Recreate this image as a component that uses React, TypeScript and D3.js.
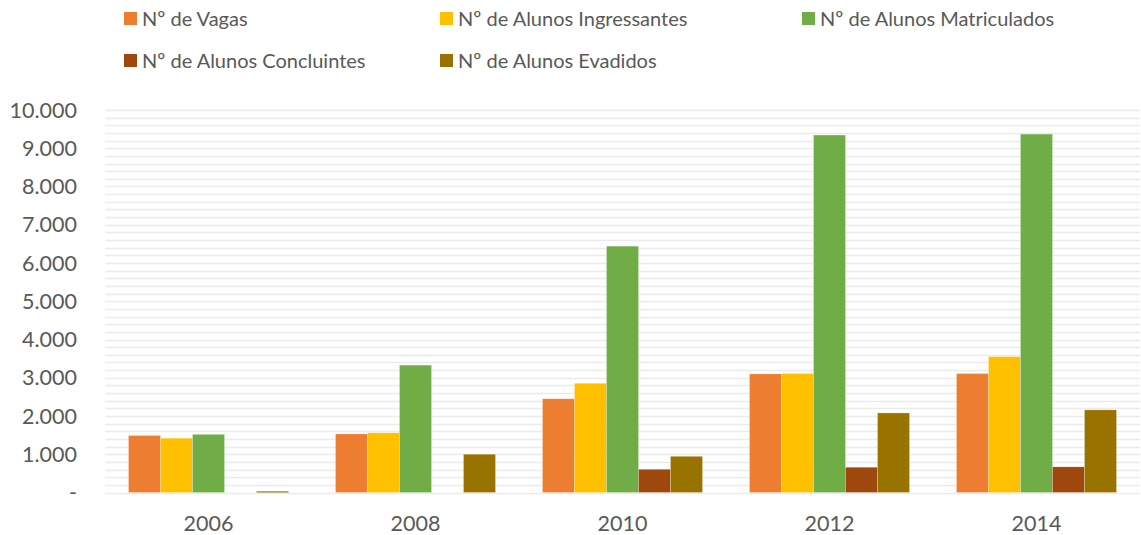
import { useRef, useEffect } from 'react';
import * as d3 from 'd3';

// Series and values
const YEARS = ['2006', '2008', '2010', '2012', '2014'];
const SERIES = [
  'Nº de Vagas',
  'Nº de Alunos Ingressantes',
  'Nº de Alunos Matriculados',
  'Nº de Alunos Concluintes',
  'Nº de Alunos Evadidos',
];
const COLORS = ['#ed7d31', '#ffc000', '#70ad47', '#9e480e', '#997300'];

const VAGAS = [1490, 1530, 2450, 3100, 3110];
const INGRESSANTES = [1420, 1560, 2855, 3110, 3550];
const MATRICULADOS = [1520, 3330, 6440, 9345, 9370];
const CONCLUINTES = [0, 0, 607, 660, 670];
const EVADIDOS = [30, 1000, 946, 2080, 2160];

const VALUES = [VAGAS, INGRESSANTES, MATRICULADOS, CONCLUINTES, EVADIDOS];
const Y_TICKS = [0, 1000, 2000, 3000, 4000, 5000, 6000, 7000, 8000, 9000, 10000];

const WIDTH = 1141;
const HEIGHT = 535;
const FONT = 'Lato, "Open Sans", sans-serif';

export default function App() {
  const svgRef = useRef<SVGSVGElement>(null);

  useEffect(() => {
    if (!svgRef.current) return;
    const svg = d3.select(svgRef.current);
    svg.selectAll('*').remove();

    const left = 105;
    const right = 1140;
    const bottom = 492.5;
    const top = 110;

    const x0 = d3.scaleBand()
      .domain(YEARS)
      .range([left, right])
      .paddingInner(0.227)
      .paddingOuter(0.1135);

    const x1 = d3.scaleBand()
      .domain(SERIES)
      .range([0, x0.bandwidth()]);

    const y = d3.scaleLinear()
      .domain([0, 10000])
      .range([bottom, top]);

    // Grid lines (major + minor every 200)
    svg.append('g')
      .selectAll('line')
      .data(d3.range(0, 10001, 200))
      .join('line')
      .attr('x1', left)
      .attr('x2', right)
      .attr('y1', (d) => Math.round(y(d)) + 0.5)
      .attr('y2', (d) => Math.round(y(d)) + 0.5)
      .attr('stroke', '#ebebeb')
      .attr('stroke-width', 1.3);

    // Bars
    const groups = svg.append('g')
      .selectAll('g')
      .data(YEARS)
      .join('g')
      .attr('transform', (d) => `translate(${x0(d)},0)`);

    groups.selectAll('rect')
      .data((year) => SERIES.map((s, k) => ({ s, k, v: VALUES[k][YEARS.indexOf(year)] })))
      .join('rect')
      .filter((d) => d.v > 0)
      .attr('x', (d) => x1(d.s) as number)
      .attr('y', (d) => y(d.v))
      .attr('width', x1.bandwidth())
      .attr('height', (d) => bottom - y(d.v))
      .attr('fill', (d) => COLORS[d.k])
      .attr('stroke', '#ffffff')
      .attr('stroke-opacity', (d) => (d.v < 100 ? 0 : 0.3))
      .attr('stroke-width', 0.75);

    // Y axis labels
    svg.append('g')
      .selectAll('text')
      .data(Y_TICKS)
      .join('text')
      .attr('x', 77)
      .attr('y', (d) => y(d))
      .attr('dy', '0.35em')
      .attr('text-anchor', 'end')
      .attr('font-family', FONT)
      .attr('font-size', 21.5)
      .attr('fill', '#595959')
      .text((d) => (d === 0 ? '-' : d3.format(',')(d).replace(/,/g, '.')));

    // X axis labels
    svg.append('g')
      .selectAll('text')
      .data(YEARS)
      .join('text')
      .attr('x', (d) => (x0(d) as number) + x0.bandwidth() / 2)
      .attr('y', 531)
      .attr('text-anchor', 'middle')
      .attr('font-family', FONT)
      .attr('font-size', 21.5)
      .attr('fill', '#595959')
      .text((d) => d);

    // Legend
    const legendPos = [
      [124, 19], [440, 19], [802, 19],
      [124, 61], [440, 61],
    ];
    const legend = svg.append('g')
      .selectAll('g')
      .data(SERIES)
      .join('g')
      .attr('transform', (d, i) => `translate(${legendPos[i][0]},${legendPos[i][1]})`);

    legend.append('rect')
      .attr('x', 0)
      .attr('y', -7)
      .attr('width', 13)
      .attr('height', 13)
      .attr('fill', (d, i) => COLORS[i]);

    legend.append('text')
      .attr('x', 18)
      .attr('y', 0)
      .attr('dy', '0.35em')
      .attr('font-family', FONT)
      .attr('font-size', 20)
      .attr('fill', '#595959')
      .text((d) => d);
  }, []);

  return (
    <svg
      ref={svgRef}
      width={WIDTH}
      height={HEIGHT}
      style={{ position: 'absolute', left: 0, top: 0, background: '#fff' }}
    />
  );
}
